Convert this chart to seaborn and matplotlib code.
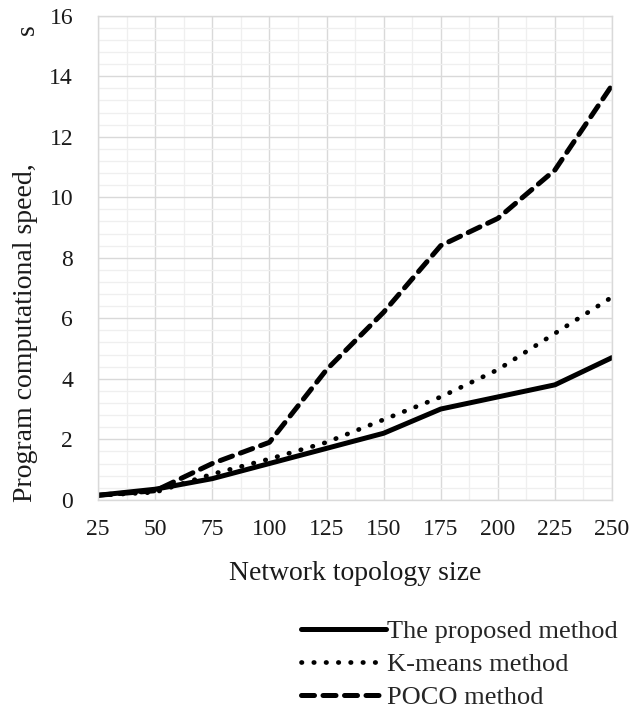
import numpy as np
import pandas as pd
import matplotlib
matplotlib.use("Agg")
import matplotlib.pyplot as plt
import seaborn as sns
from matplotlib.ticker import MultipleLocator

sns.set_style("white")
plt.rcParams['font.family'] = ['Liberation Serif', 'DejaVu Serif']

sizes = [25, 50, 75, 100, 125, 150, 175, 200, 225, 250]
proposed = [0.15, 0.35, 0.7, 1.2, 1.7, 2.2, 3.0, 3.4, 3.8, 4.7]
kmeans = [0.15, 0.25, 0.85, 1.35, 1.9, 2.65, 3.4, 4.3, 5.5, 6.7]
poco = [0.15, 0.3, 1.2, 1.9, 4.3, 6.2, 8.4, 9.3, 10.9, 13.7]

methods = ["The proposed method", "K-means method", "POCO method"]

df = pd.DataFrame({
    "size": sizes * 3,
    "time": proposed + kmeans + poco,
    "method": [m for m in methods for _ in sizes],
})

fig = plt.figure(figsize=(6.29, 7.13), dpi=100)
ax = fig.add_axes([0.156, 0.299, 0.817, 0.679])

styles = {
    "The proposed method": dict(linestyle="-", linewidth=3.6),
    "K-means method": dict(linestyle=(0, (0.1, 2.5)), linewidth=3.4, dash_capstyle="round"),
    "POCO method": dict(linestyle=(0, (2.6, 1.7)), linewidth=3.6, dash_capstyle="round"),
}

for m in methods:
    sub = df[df["method"] == m]
    sns.lineplot(data=sub, x="size", y="time", ax=ax, color="black",
                 label=m, legend=False, **styles[m])

ax.set_xlim(25, 250)
ax.set_ylim(0, 16)
ax.xaxis.set_major_locator(MultipleLocator(25))
ax.xaxis.set_minor_locator(MultipleLocator(12.5))
ax.yaxis.set_major_locator(MultipleLocator(2))
ax.yaxis.set_minor_locator(MultipleLocator(0.4))
ax.grid(which="major", color="#d9d9d9", linewidth=1.0)
ax.grid(which="minor", color="#efefef", linewidth=0.9)
ax.set_axisbelow(True)
for s in ax.spines.values():
    s.set_color("#d9d9d9")
    s.set_linewidth(1.0)
ax.tick_params(which="both", length=0, labelsize=17, colors="#1a1a1a")
ax.tick_params(axis="y", pad=18)
ax.tick_params(axis="x", pad=14)
ax.set_xlabel("")
ax.set_ylabel("")

fig.text(0.565, 0.195, "Network topology size", ha="center", va="center",
         fontsize=20, color="#1a1a1a")
fig.text(0.040, 0.534, "Program computational speed,", rotation=90,
         ha="center", va="center", fontsize=20, color="#1a1a1a")
fig.text(0.043, 0.958, "s", rotation=90, ha="center", va="center",
         fontsize=20, color="#1a1a1a")

handles, labels = ax.get_legend_handles_labels()
fig.legend(handles, labels, loc="upper left", bbox_to_anchor=(0.479, 0.131),
           frameon=False, fontsize=19, handlelength=3.2, handletextpad=0.05,
           labelspacing=0.36, borderaxespad=0, borderpad=0)

fig.savefig("out.png", dpi=100)
